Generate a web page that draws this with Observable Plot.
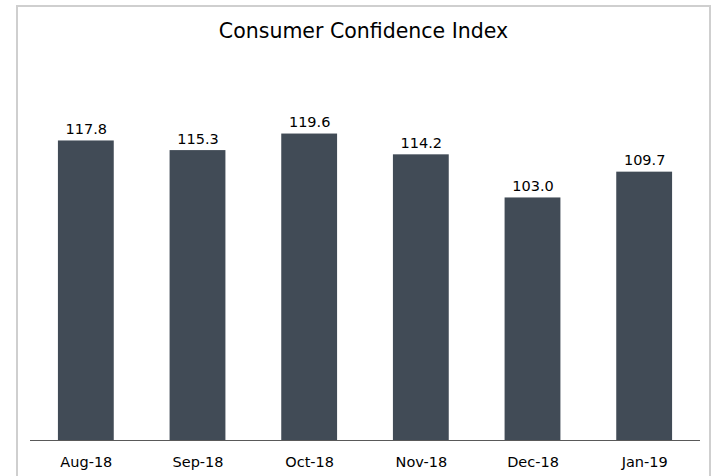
<!DOCTYPE html>
<html>
<head>
<meta charset="utf-8">
<script src="https://cdn.jsdelivr.net/npm/d3@7"></script>
<script src="https://cdn.jsdelivr.net/npm/@observablehq/plot@0.6"></script>
<style>
  html, body { margin: 0; padding: 0; background: #fff; }
  #wrap { position: relative; width: 712px; height: 476px; overflow: hidden; font-family: "DejaVu Sans", Verdana, sans-serif; }
  #frame { position: absolute; left: 16px; top: 5px; width: 691px; height: 490px; border: 2px solid #cfcfcf; }
  #title { position: absolute; left: 16px; width: 695px; top: 19px; text-align: center; font-size: 20.5px; color: #000; line-height: 24px; }
  #chart { position: absolute; left: 0; top: 0; }
</style>
</head>
<body>
<div id="wrap">
  <div id="frame"></div>
  <div id="title">Consumer Confidence Index</div>
  <div id="chart"></div>
</div>
<script>
const months = ["Aug-18", "Sep-18", "Oct-18", "Nov-18", "Dec-18", "Jan-19"];
const values = [117.8, 115.3, 119.6, 114.2, 103.0, 109.7];

const data = months.map((m, i) => ({month: m, value: values[i]}));

const chart = Plot.plot({
  width: 712,
  height: 476,
  marginLeft: 30,
  marginRight: 12,
  marginTop: 55,
  marginBottom: 36,
  style: {fontFamily: "DejaVu Sans, Verdana, sans-serif", fontSize: "14.5px", background: "transparent", color: "#000"},
  x: {domain: months, paddingInner: 0.5, paddingOuter: 0.25, round: false, label: null, tickSize: 0, tickPadding: 16},
  y: {domain: [40, 140], axis: null},
  marks: [
    Plot.barY(data, {x: "month", y1: 40, y2: "value", fill: "#414b56"}),
    Plot.ruleY([40], {stroke: "#595959", strokeWidth: 1}),
    Plot.text(data, {x: "month", y: "value", text: d => d.value.toFixed(1), lineAnchor: "bottom", dy: -7, fontSize: 14.5, fill: "#000"})
  ]
});
document.getElementById("chart").appendChild(chart);
</script>
</body>
</html>
